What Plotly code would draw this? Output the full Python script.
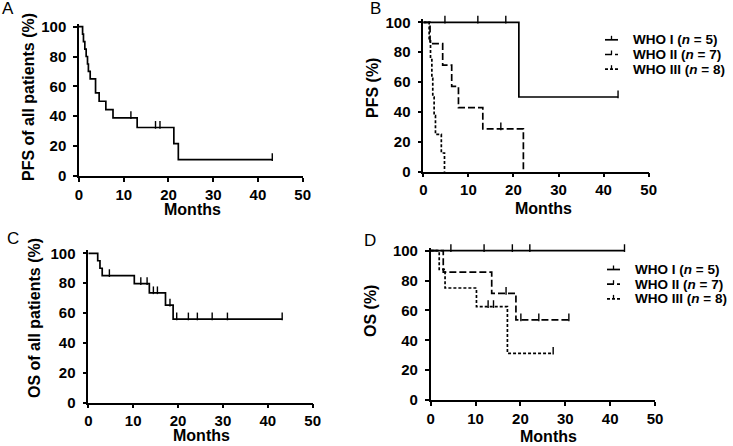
import plotly.graph_objects as go

W, H = 733, 446

# ---------------- data ----------------
# Panel A: PFS of all patients
A_t = [0, 0.8, 1.0, 1.3, 1.6, 1.9, 2.1, 2.5, 3.7, 4.5, 6.0, 7.6, 13.0, 21.2, 22.2, 43.2]
A_s = [100, 95, 90, 85, 80, 75, 70, 65, 55.6, 50, 44.4, 38.9, 32.4, 21.6, 10.8, 10.8]
A_cens = [11.6, 17.1, 18.1, 43.2]

# Panel B: PFS by WHO grade
B1_t = [0, 21.2, 43.2]
B1_s = [100, 50, 50]
B1_cens = [4.8, 12.1, 18.3, 43.2]
B2_t = [0, 1.5, 4.3, 6.3, 7.8, 13.2, 22.2]
B2_s = [100, 85.7, 71.4, 57.1, 42.9, 28.6, 0]
B2_cens = [17.2]
B3_t = [0, 1.3, 1.6, 1.9, 2.1, 2.4, 2.7, 4.0, 4.7]
B3_s = [100, 87.5, 75, 62.5, 50, 37.5, 25, 12.5, 0]
B3_cens = []

# Panel C: OS of all patients
C_t = [0, 2.1, 2.6, 3.1, 10.25, 13.6, 17.2, 18.9, 43.2]
C_s = [100, 95, 90, 85, 79.7, 73.5, 65.3, 56.0, 56.0]
C_cens = [4.7, 11.7, 13.1, 14.5, 15.4, 18.2, 19.7, 22.3, 24.3, 27.6, 31.0, 43.2]

# Panel D: OS by WHO grade
D1_t = [0, 43.2]
D1_s = [100, 100]
D1_cens = [4.5, 11.9, 18.2, 22.1, 43.2]
D2_t = [0, 2.8, 13.6, 19.0, 30.8]
D2_s = [100, 85.7, 71.4, 53.6, 53.6]
D2_cens = [16.8, 20.1, 24.1, 30.8]
D3_t = [0, 1.9, 3.2, 10.2, 17.1, 27.3]
D3_s = [100, 87.5, 75, 62.5, 31.25, 31.25]
D3_cens = [12.8, 14.0, 27.3]

x_ticks = [0, 10, 20, 30, 40, 50]
y_ticks = [0, 20, 40, 60, 80, 100]
legend_labels = ["WHO I (<i>n</i> = 5)", "WHO II (<i>n</i> = 7)", "WHO III (<i>n</i> = 8)"]

# ---------------- layout helpers ----------------
FONT = "Liberation Sans"
YTOP = 102.0

panels = {
    # name: (x_left_px, x_right_px, y0_px, y100_px)
    "A": (79.0, 302.7, 175.8, 26.7),
    "B": (423.3, 648.7, 171.7, 22.3),
    "C": (88.3, 312.7, 402.7, 253.3),
    "D": (430.7, 655.0, 400.0, 250.7),
}

def xdom(p):
    l, r, _, _ = panels[p]
    return [l / W, r / W]

def ydom(p):
    _, _, b, t = panels[p]
    top = b - (b - t) * YTOP / 100.0
    return [1 - b / H, 1 - top / H]

def px_per_pct(p):
    _, _, b, t = panels[p]
    return (b - t) / 100.0

def surv_at(ts, ss, c):
    v = ss[0]
    for t, s in zip(ts, ss):
        if t <= c:
            v = s
    return v

fig = go.Figure()
LW = 1.7
DASH2 = "7px,3px"
DASH3 = "3px,2px"

def add_curve(ts, ss, cens, panel, axis_idx, dash):
    xa = "x" if axis_idx == 1 else f"x{axis_idx}"
    ya = "y" if axis_idx == 1 else f"y{axis_idx}"
    fig.add_trace(go.Scatter(x=ts, y=ss, mode="lines", line=dict(color="black", width=LW, dash=dash, shape="hv"),
                             xaxis=xa, yaxis=ya, showlegend=False, hoverinfo="skip"))
    if cens:
        off = 2.6 / px_per_pct(panel)
        cy = [surv_at(ts, ss, c) + off for c in cens]
        fig.add_trace(go.Scatter(x=cens, y=cy, mode="markers",
                                 marker=dict(symbol="line-ns", size=5.5, line=dict(color="black", width=1.4)),
                                 xaxis=xa, yaxis=ya, showlegend=False, hoverinfo="skip", cliponaxis=False))

add_curve(A_t, A_s, A_cens, "A", 1, "solid")
add_curve(B1_t, B1_s, B1_cens, "B", 2, "solid")
add_curve(B2_t, B2_s, B2_cens, "B", 2, DASH2)
add_curve(B3_t, B3_s, B3_cens, "B", 2, DASH3)
add_curve(C_t, C_s, C_cens, "C", 3, "solid")
add_curve(D1_t, D1_s, D1_cens, "D", 4, "solid")
add_curve(D2_t, D2_s, D2_cens, "D", 4, DASH2)
add_curve(D3_t, D3_s, D3_cens, "D", 4, DASH3)

tickfont = dict(family=FONT, size=15, color="black", weight="bold")
axis_common = dict(showline=True, linecolor="black", linewidth=1.5, ticks="outside", ticklen=4,
                   tickwidth=1.5, tickcolor="black", showgrid=False, zeroline=False, tickfont=tickfont,
                   fixedrange=True, automargin=False)

layout = dict(width=W, height=H, margin=dict(l=0, r=0, t=0, b=0, pad=0), autosize=False,
              paper_bgcolor="white", plot_bgcolor="white", showlegend=False,
              font=dict(family=FONT, color="black"))
for i, p in enumerate(["A", "B", "C", "D"], start=1):
    xk = "xaxis" if i == 1 else f"xaxis{i}"
    yk = "yaxis" if i == 1 else f"yaxis{i}"
    ya = "y" if i == 1 else f"y{i}"
    xa = "x" if i == 1 else f"x{i}"
    layout[xk] = dict(domain=xdom(p), range=[0, 50], tickvals=x_ticks,
                      ticktext=[f"<b>{v}</b>" for v in x_ticks], anchor=ya, **axis_common)
    layout[yk] = dict(domain=ydom(p), range=[0, YTOP], tickvals=y_ticks,
                      ticktext=[f"<b>{v}</b>" for v in y_ticks], anchor=xa,
                      ticklabelstandoff=4, **axis_common)
fig.update_layout(**layout)

def px2paper(x, y):
    return x / W, 1 - y / H

def ann(text, xpx, ypx, size, bold=True, angle=0, xanchor="center", yanchor="middle"):
    x, y = px2paper(xpx, ypx)
    fig.add_annotation(text=f"<b>{text}</b>" if bold else text, x=x, y=y, xref="paper", yref="paper",
                       showarrow=False, textangle=angle, xanchor=xanchor, yanchor=yanchor,
                       font=dict(family=FONT, size=size, color="black"))

# panel letters
ann("A", 7.5, 8.5, 17, bold=False)
ann("B", 375, 8.5, 17, bold=False)
ann("C", 12.5, 238.5, 17, bold=False)
ann("D", 370, 240.5, 17, bold=False)

# axis titles
ann("Months", 192.5, 209.5, 16)
ann("Months", 543, 208, 16)
ann("Months", 201, 435.5, 16)
ann("Months", 548, 436.5, 16)
ann("PFS of all patients (%)", 29, 97, 16, angle=-90)
ann("PFS (%)", 372, 88, 16, angle=-90)
ann("OS of all patients (%)", 34, 318, 16, angle=-90)
ann("OS (%)", 370, 311, 16, angle=-90)

# legends (drawn as shapes + text)
def legend_block(x0px, x1px, text_x, rows):
    dashes = ["solid", DASH2, DASH3]
    for lbl, dash, ypx in zip(legend_labels, dashes, rows):
        xa, ya = px2paper(x0px, ypx)
        xb, _ = px2paper(x1px, ypx)
        fig.add_shape(type="line", xref="paper", yref="paper", x0=xa, x1=xb, y0=ya, y1=ya,
                      line=dict(color="black", width=LW, dash=dash))
        xm, _ = px2paper((x0px + x1px) / 2, ypx)
        _, yt = px2paper(0, ypx - 4)
        fig.add_shape(type="line", xref="paper", yref="paper", x0=xm, x1=xm, y0=ya, y1=yt,
                      line=dict(color="black", width=1.3))
        ann(lbl, text_x, ypx, 13.5, xanchor="left")

legend_block(605, 618, 631, [39.8, 54.5, 69.2])
legend_block(607, 620, 633, [269.5, 284.2, 298.9])

# the page's default body margin would push the figure 8px right/down; remove it
fig.write_html("out.html", config={"displayModeBar": False},
               post_script="document.body.style.margin='0';")
